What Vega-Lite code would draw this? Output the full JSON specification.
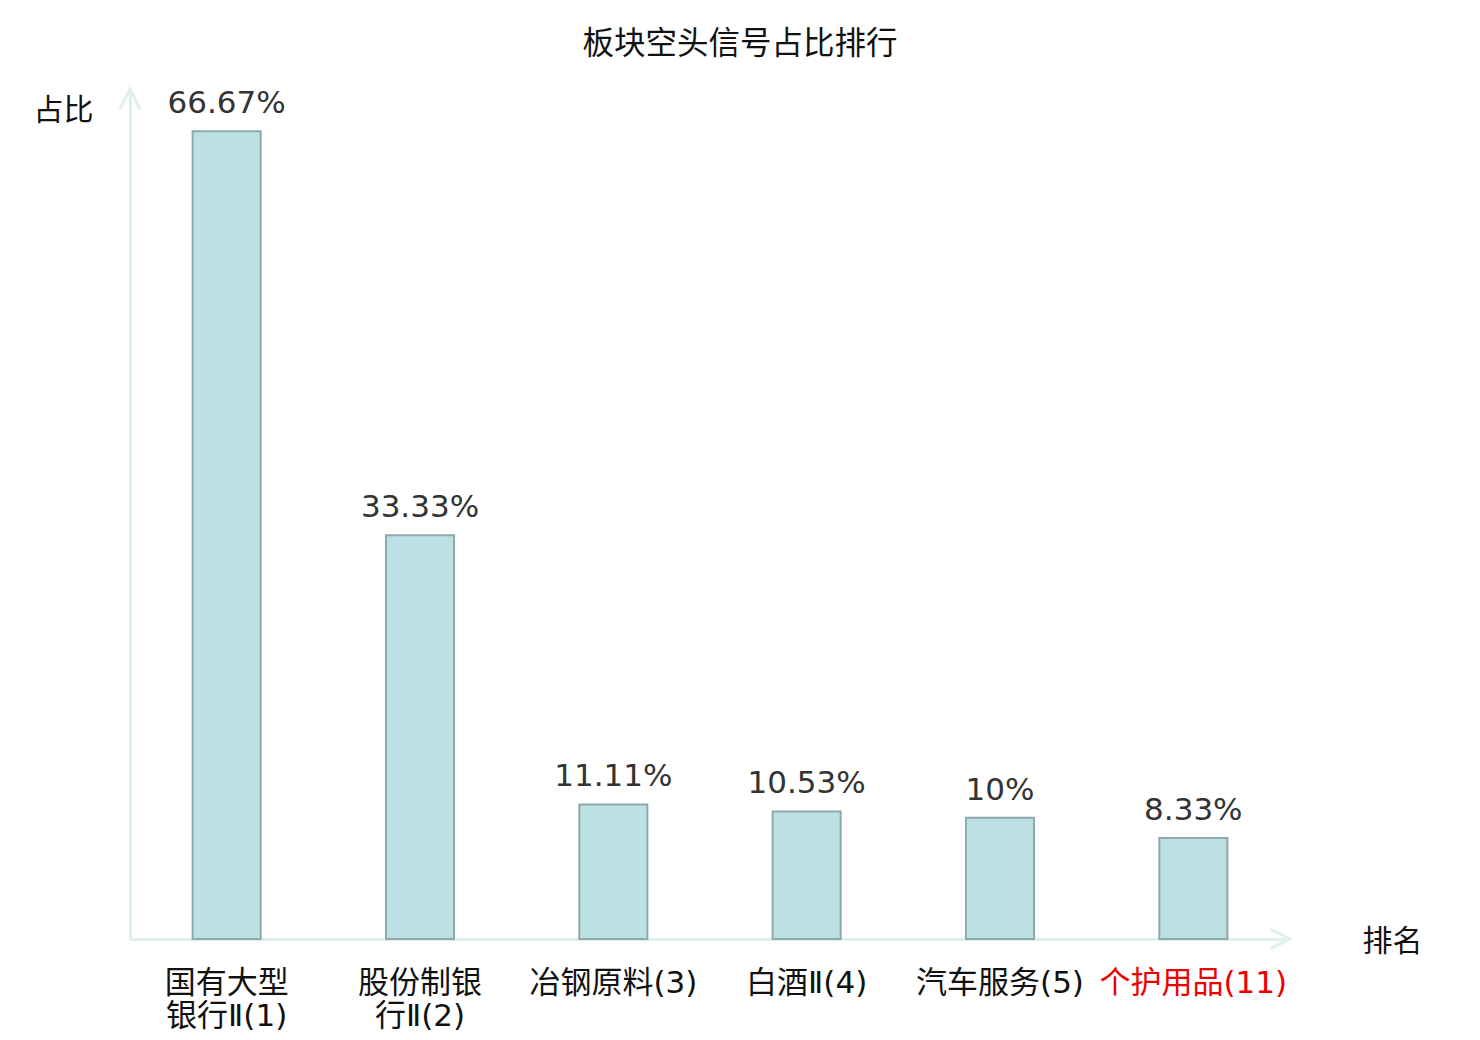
{
  "$schema": "https://vega.github.io/schema/vega-lite/v6.json",
  "autosize": {"type": "none"},
  "width": 1160,
  "height": 848,
  "padding": {"left": 130, "top": 91, "right": 190, "bottom": 101},
  "background": "white",
  "title": {
    "text": "板块空头信号占比排行",
    "font": "Noto Sans CJK SC",
    "fontSize": 31.5,
    "fontWeight": "normal",
    "color": "#111",
    "anchor": "middle",
    "dx": 30,
    "offset": 23
  },
  "data": {
    "values": [
      {"sector": "国有大型|银行Ⅱ(1)", "ratio": 66.67, "label": "66.67%"},
      {"sector": "股份制银|行Ⅱ(2)", "ratio": 33.33, "label": "33.33%"},
      {"sector": "冶钢原料(3)", "ratio": 11.11, "label": "11.11%"},
      {"sector": "白酒Ⅱ(4)", "ratio": 10.53, "label": "10.53%"},
      {"sector": "汽车服务(5)", "ratio": 10, "label": "10%"},
      {"sector": "个护用品(11)", "ratio": 8.33, "label": "8.33%"}
    ]
  },
  "encoding": {
    "x": {
      "field": "sector",
      "type": "nominal",
      "sort": null,
      "scale": {"paddingInner": 0.648, "paddingOuter": 0.324},
      "axis": {
        "title": "排名",
        "titleFont": "Noto Sans CJK SC",
        "titleFontSize": 30,
        "titleFontWeight": "normal",
        "titleColor": "#111",
        "titleAngle": 0,
        "titleAlign": "center",
        "titleBaseline": "middle",
        "titleX": 1262,
        "titleY": 2,
        "labelExpr": "split(datum.label, '|')",
        "labelAngle": 0,
        "labelLimit": 0,
        "labelFont": "DejaVu Sans, Noto Sans CJK SC",
        "labelFontSize": 31,
        "labelLineHeight": 33,
        "labelPadding": 29,
        "labelBaseline": "top",
        "labelColor": {
          "condition": {"test": "datum.value == '个护用品(11)'", "value": "#ee0000"},
          "value": "#111"
        },
        "ticks": false,
        "domainColor": "#ddf1ee",
        "domainWidth": 3
      }
    },
    "y": {
      "field": "ratio",
      "type": "quantitative",
      "scale": {"domain": [0, 70], "nice": false},
      "axis": {
        "title": "占比",
        "titleFont": "Noto Sans CJK SC",
        "titleFontSize": 30,
        "titleFontWeight": "normal",
        "titleColor": "#111",
        "titleAngle": 0,
        "titleAlign": "center",
        "titleBaseline": "middle",
        "titleX": -67,
        "titleY": 19,
        "labels": false,
        "ticks": false,
        "grid": false,
        "domainColor": "#ddf1ee",
        "domainWidth": 3
      }
    }
  },
  "layer": [
    {
      "mark": {"type": "bar", "fill": "#bce1e4", "stroke": "#8ea9ab", "strokeWidth": 2}
    },
    {
      "mark": {
        "type": "text",
        "font": "DejaVu Sans",
        "fontSize": 31,
        "color": "#333",
        "baseline": "alphabetic",
        "dy": -18
      },
      "encoding": {"text": {"field": "label"}}
    },
    {
      "data": {"values": [{"axis": "y"}]},
      "mark": {
        "type": "point",
        "shape": "M-1,2L0,0L1,2",
        "filled": false,
        "opacity": 1,
        "strokeWidth": 3
      },
      "encoding": {
        "x": {"value": 0},
        "y": {"value": -2},
        "size": {"value": 400},
        "color": {"value": "#ddf1ee"}
      }
    },
    {
      "data": {"values": [{"axis": "x"}]},
      "mark": {
        "type": "point",
        "shape": "M-2,-1L0,0L-2,1",
        "filled": false,
        "opacity": 1,
        "strokeWidth": 3
      },
      "encoding": {
        "x": {"value": 1160},
        "y": {"value": 848},
        "size": {"value": 400},
        "color": {"value": "#ddf1ee"}
      }
    }
  ],
  "config": {
    "view": {"stroke": null}
  }
}
